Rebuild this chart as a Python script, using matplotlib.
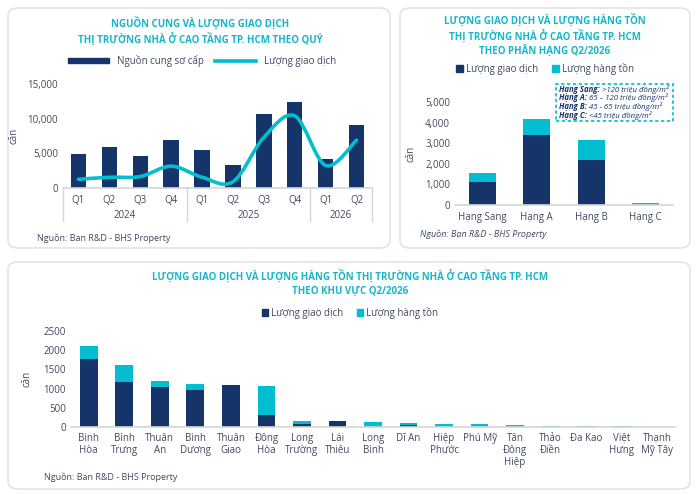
import numpy as np
import matplotlib.pyplot as plt
from matplotlib.patches import FancyBboxPatch, Patch, PathPatch
from matplotlib.lines import Line2D
from matplotlib.path import Path
from matplotlib.text import Annotation
from matplotlib.ticker import FuncFormatter

plt.rcParams['font.family'] = ['Open Sans', 'DejaVu Sans']

NAVY = '#15346A'
CYAN = '#03BDD0'
TITLE = '#17B6CB'
TXT = '#3E4A60'
AXC = '#D6D6D6'

# ---- data: quarterly ----
quarters = ['Q1', 'Q2', 'Q3', 'Q4', 'Q1', 'Q2', 'Q3', 'Q4', 'Q1', 'Q2']
years = ['2024', '2025', '2026']
year_span = [(0, 3), (4, 7), (8, 9)]
supply = [4950, 5900, 4650, 6900, 5550, 3350, 10650, 12450, 4250, 9100]
sales_q = [1250, 1550, 1650, 3150, 1550, 900, 7300, 10400, 3250, 6900]

# ---- data: by segment ----
segments = ['Hạng Sang', 'Hạng A', 'Hạng B', 'Hạng C']
seg_sold = [1120, 3380, 2200, 0]
seg_stock = [450, 810, 970, 80]

# ---- data: by area ----
areas = ['Bình\nHòa', 'Bình\nTrưng', 'Thuận\nAn', 'Bình\nDương', 'Thuận\nGiao',
         'Đông\nHòa', 'Long\nTrường', 'Lái\nThiêu', 'Long\nBình', 'Dĩ An',
         'Hiệp\nPhước', 'Phú Mỹ', 'Tân\nĐông\nHiệp', 'Thảo\nĐiền', 'Đa Kao',
         'Việt\nHưng', 'Thạnh\nMỹ Tây']
area_sold = [1780, 1165, 1045, 955, 1105, 315, 70, 150, 0, 40,
             0, 0, 0, 0, 0, 0, 0]
area_stock = [320, 440, 150, 170, 0, 765, 85, 0, 125, 60,
              70, 70, 50, 35, 30, 25, 5]

W, H = 700, 495
fig = plt.figure(figsize=(7, 4.95), dpi=100)


def fx(px):
    return px / W


def fy(py):
    return 1 - py / H


def panel(x0, y0, x1, y1):
    p = FancyBboxPatch((fx(x0), fy(y1)), fx(x1 - x0), (y1 - y0) / H,
                       boxstyle='round,pad=0,rounding_size=0.015',
                       transform=fig.transFigure, facecolor='white',
                       edgecolor='#E4E4E4', lw=1.2, zorder=-10)
    fig.patches.append(p)


panel(8, 8, 390, 248)
panel(400, 8, 690, 248)
panel(8, 262, 690, 489)


def style_ax(ax):
    for s in ['top', 'right', 'left']:
        ax.spines[s].set_visible(False)
    ax.spines['bottom'].set_color(AXC)
    ax.spines['bottom'].set_linewidth(1.2)
    ax.tick_params(axis='both', length=0, colors=TXT, labelsize=7)
    ax.set_facecolor('none')


def axes_px(x0, x1, ybot, ytop):
    return fig.add_axes([fx(x0), fy(ybot), fx(x1 - x0), (ybot - ytop) / H])


comma = FuncFormatter(lambda v, p: f'{int(v):,}')

# ---------------- top-left ----------------
ax1 = axes_px(63, 372, 188, 84)
style_ax(ax1)
x = np.arange(len(quarters))
ax1.bar(x, supply, width=0.5, color=NAVY)

# smooth line (Catmull-Rom -> Bezier) through the data points
pts = np.column_stack([x, sales_q]).astype(float)
verts = [pts[0]]
codes = [Path.MOVETO]
n = len(pts)
for i in range(n - 1):
    p0 = pts[max(i - 1, 0)]
    p1 = pts[i]
    p2 = pts[i + 1]
    p3 = pts[min(i + 2, n - 1)]
    c1 = p1 + (p2 - p0) / 6
    c2 = p2 - (p3 - p1) / 6
    verts += [c1, c2, p2]
    codes += [Path.CURVE4] * 3
ax1.add_patch(PathPatch(Path(verts, codes), fill=False, edgecolor=CYAN,
                        lw=2.6, capstyle='round', zorder=3))
ax1.set_xlim(-0.5, len(quarters) - 0.5)
ax1.set_ylim(0, 15000)
ax1.set_yticks([0, 5000, 10000, 15000])
ax1.yaxis.set_major_formatter(comma)
ax1.set_xticks(x)
ax1.set_xticklabels(quarters)
ax1.tick_params(axis='x', pad=5)
trans = ax1.get_xaxis_transform()
for b in [-0.5, 3.5, 7.5, 9.5]:
    ax1.plot([b, b], [0, -0.32], color=AXC, lw=1, transform=trans, clip_on=False)
for yr, (a, b) in zip(years, year_span):
    ax1.text((a + b) / 2, -0.26, yr, transform=trans, ha='center', va='center',
             fontsize=7, color=TXT)
ax1.set_ylabel('căn', color=TXT, fontsize=7, labelpad=6)

fig.text(fx(200), fy(31), 'NGUỒN CUNG VÀ LƯỢNG GIAO DỊCH\nTHỊ TRƯỜNG NHÀ Ở CAO TẦNG TP. HCM THEO QUÝ',
         ha='center', va='center', color=TITLE, fontsize=7, fontweight='bold',
         linespacing=1.3)
fig.legend(handles=[Patch(color=NAVY, label='Nguồn cung sơ cấp'),
                    Line2D([], [], color=CYAN, lw=2.6, label='Lượng giao dịch')],
           loc='center', bbox_to_anchor=(fx(202), fy(61)), ncol=2, frameon=False,
           fontsize=7, handlelength=4.2, handleheight=0.5, columnspacing=1.2,
           labelcolor=TXT)
fig.text(fx(37), fy(238), 'Nguồn: Ban R&D - BHS Property', fontsize=6.5,
         color=TXT, va='center')

# ---------------- top-right ----------------
ax2 = axes_px(455, 673, 205, 102)
style_ax(ax2)
xs = np.arange(len(segments))
ax2.bar(xs, seg_sold, width=0.5, color=NAVY)
ax2.bar(xs, seg_stock, width=0.5, bottom=seg_sold, color=CYAN)
ax2.set_xlim(-0.5, len(segments) - 0.5)
ax2.set_ylim(0, 5000)
ax2.set_yticks(range(0, 5001, 1000))
ax2.yaxis.set_major_formatter(comma)
ax2.set_xticks(xs)
ax2.set_xticklabels(segments)
ax2.tick_params(axis='x', pad=5)
ax2.set_ylabel('căn', color=TXT, fontsize=7, labelpad=6)
fig.text(fx(545), fy(35), 'LƯỢNG GIAO DỊCH VÀ LƯỢNG HÀNG TỒN\nTHỊ TRƯỜNG NHÀ Ở CAO TẦNG TP. HCM\nTHEO PHÂN HẠNG Q2/2026',
         ha='center', va='center', color=TITLE, fontsize=7, fontweight='bold',
         linespacing=1.25)
fig.legend(handles=[Patch(color=NAVY, label='Lượng giao dịch'),
                    Patch(color=CYAN, label='Lượng hàng tồn')],
           loc='center', bbox_to_anchor=(fx(545), fy(69)), ncol=2, frameon=False,
           fontsize=7, handlelength=0.7, handleheight=0.7, handletextpad=0.3,
           columnspacing=1.5, labelcolor=TXT)
fig.text(fx(420), fy(234), 'Nguồn: Ban R&D - BHS Property', fontsize=6.5,
         color=TXT, va='center', style='italic')

# note box
box = FancyBboxPatch((fx(556), fy(121)), fx(117), 37 / H, boxstyle='square,pad=0',
                     transform=fig.transFigure, facecolor='white', edgecolor=CYAN,
                     lw=1.2, ls=(0, (2, 1.5)), zorder=5)
fig.patches.append(box)
notes = [('Hạng Sang:', ' >120 triệu đồng/m²'),
         ('Hạng A:', ' 65 – 120 triệu đồng/m²'),
         ('Hạng B:', ' 45 - 65 triệu đồng/m²'),
         ('Hạng C:', ' <45 triệu đồng/m²')]
for i, (b, r) in enumerate(notes):
    t = fig.text(fx(559), fy(89 + i * 8.8), b, fontsize=5.6, color=NAVY,
                 style='italic', fontweight='bold', va='center', zorder=6)
    fig.add_artist(Annotation(r, xy=(1, 0.5), xycoords=t, va='center',
                              fontsize=5.6, color=NAVY, style='italic', zorder=6))

# ---------------- bottom ----------------
ax3 = axes_px(71, 675, 427, 331)
style_ax(ax3)
xa = np.arange(len(areas))
ax3.bar(xa, area_sold, width=0.5, color=NAVY)
ax3.bar(xa, area_stock, width=0.5, bottom=area_sold, color=CYAN)
ax3.set_xlim(-0.5, len(areas) - 0.5)
ax3.set_ylim(0, 2500)
ax3.set_yticks(range(0, 2501, 500))
ax3.set_xticks(xa)
ax3.set_xticklabels(areas, linespacing=1.15, va='top')
ax3.tick_params(axis='x', pad=4)
ax3.set_ylabel('căn', color=TXT, fontsize=7, labelpad=8)
fig.text(fx(350), fy(283), 'LƯỢNG GIAO DỊCH VÀ LƯỢNG HÀNG TỒN THỊ TRƯỜNG NHÀ Ở CAO TẦNG TP. HCM\nTHEO KHU VỰC Q2/2026',
         ha='center', va='center', color=TITLE, fontsize=7, fontweight='bold',
         linespacing=1.3)
fig.legend(handles=[Patch(color=NAVY, label='Lượng giao dịch'),
                    Patch(color=CYAN, label='Lượng hàng tồn')],
           loc='center', bbox_to_anchor=(fx(350), fy(313)), ncol=2, frameon=False,
           fontsize=7, handlelength=0.6, handleheight=0.6, handletextpad=0.3,
           columnspacing=1.5, labelcolor=TXT)
fig.text(fx(44), fy(477), 'Nguồn: Ban R&D - BHS Property', fontsize=6.5,
         color=TXT, va='center')

fig.savefig('out.png', dpi=100, facecolor='white')
